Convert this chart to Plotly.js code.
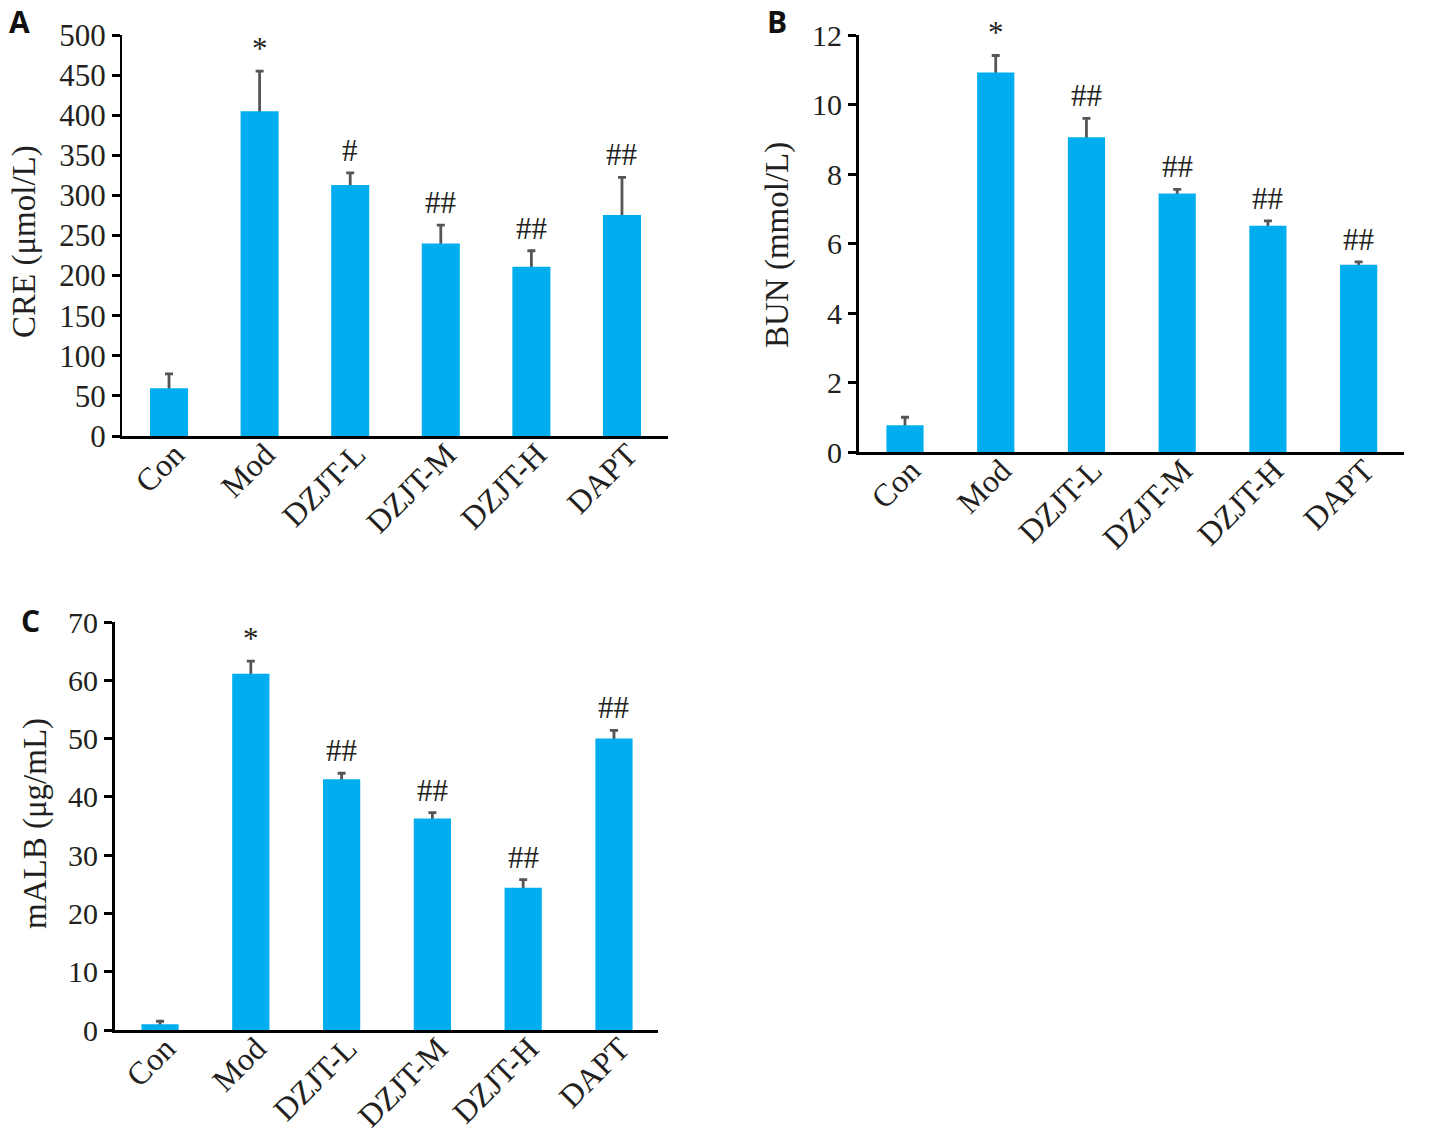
<!DOCTYPE html>
<html>
<head>
<meta charset="utf-8">
<script src="https://cdn.plot.ly/plotly-3.0.1.min.js"></script>
<style>html,body{margin:0;padding:0;background:#fff;}#chart{width:1431px;height:1138px;}</style>
</head>
<body>
<div id="chart"></div>
<script>
// ---- data ----
const categories = ['Con', 'Mod', 'DZJT-L', 'DZJT-M', 'DZJT-H', 'DAPT'];

const creMean = [59.5, 405, 313, 240, 211, 275.5];
const creErr  = [18, 50, 15, 23, 20, 47];
const creSig  = ['', '*', '#', '##', '##', '##'];

const bunMean = [0.77, 10.92, 9.06, 7.44, 6.51, 5.39];
const bunErr  = [0.23, 0.49, 0.54, 0.12, 0.14, 0.08];
const bunSig  = ['', '*', '##', '##', '##', '##'];

const malbMean = [1.0, 61.1, 43.0, 36.3, 24.4, 50.0];
const malbErr  = [0.5, 2.2, 1.05, 1.0, 1.4, 1.4];
const malbSig  = ['', '*', '##', '##', '##', '##'];

const yTitles = ['CRE (μmol/L)', 'BUN (mmol/L)', 'mALB (μg/mL)'];
const panelLetters = ['A', 'B', 'C'];

// ---- styling ----
const BAR = '#00AEEF';
const ERR = '#555555';
const SERIF = '"Liberation Serif", "Times New Roman", serif';
const W = 1431, H = 1138;

const panels = [
  {mean: creMean, err: creErr, sig: creSig, xa: 'x', ya: 'y', width: 0.42,
   xr: [-0.519, 5.508], yr: [0, 500], dtick: 50, ylw: 2,
   dom: {x0: 122, x1: 668, y0: 35, y1: 436}, tfont: 31,
   title: {x: 24, y: 242}, letter: {x: 19, y: 21}},
  {mean: bunMean, err: bunErr, sig: bunSig, xa: 'x2', ya: 'y2', width: 0.41,
   xr: [-0.507, 5.50], yr: [0, 12], dtick: 2, ylw: 3,
   dom: {x0: 859, x1: 1404, y0: 35, y1: 452}, tfont: 30,
   title: {x: 777, y: 245}, letter: {x: 777, y: 21}},
  {mean: malbMean, err: malbErr, sig: malbSig, xa: 'x3', ya: 'y3', width: 0.41,
   xr: [-0.496, 5.485], yr: [0, 70], dtick: 10, ylw: 3,
   dom: {x0: 115, x1: 658, y0: 622, y1: 1030}, tfont: 30,
   title: {x: 35, y: 824}, letter: {x: 31, y: 620}}
];

const data = [];
const layout = {
  width: W, height: H,
  margin: {l: 0, r: 0, t: 0, b: 0},
  paper_bgcolor: '#fff', plot_bgcolor: 'rgba(0,0,0,0)',
  showlegend: false,
  barmode: 'overlay',
  annotations: []
};

panels.forEach((p, i) => {
  const n = i === 0 ? '' : String(i + 1);
  // error bars (hidden bar underneath, lower part of error covered by the real bar)
  data.push({
    type: 'bar', x: categories, y: p.mean, xaxis: p.xa, yaxis: p.ya,
    width: p.width, marker: {color: 'rgba(0,0,0,0)'},
    error_y: {type: 'data', symmetric: false, array: p.err, arrayminus: p.mean,
              color: ERR, thickness: 2.8, width: 4},
    hoverinfo: 'skip'
  });
  data.push({
    type: 'bar', x: categories, y: p.mean, xaxis: p.xa, yaxis: p.ya,
    width: p.width, marker: {color: BAR, line: {width: 0}}
  });

  layout['xaxis' + n] = {
    domain: [p.dom.x0 / W, p.dom.x1 / W], anchor: 'y' + n,
    range: p.xr, type: 'category', showgrid: false, zeroline: false,
    showline: true, linecolor: '#000', linewidth: 3, ticks: '',
    tickangle: -45, ticklabelstandoff: -16, ticklabelshift: 6,
    tickfont: {family: SERIF, size: 32, color: '#231f20'},
    fixedrange: true
  };
  layout['yaxis' + n] = {
    domain: [1 - p.dom.y1 / H, 1 - p.dom.y0 / H], anchor: 'x' + n,
    range: p.yr, dtick: p.dtick, tick0: 0, showgrid: false, zeroline: false,
    showline: true, linecolor: '#000', linewidth: p.ylw,
    ticks: 'outside', ticklen: 8, tickwidth: 3, tickcolor: '#000',
    tickfont: {family: SERIF, size: p.tfont, color: '#231f20'},
    fixedrange: true
  };

  // significance marks
  categories.forEach((c, k) => {
    if (!p.sig[k]) return;
    layout.annotations.push({
      xref: p.xa, yref: p.ya, x: c, y: p.mean[k] + p.err[k],
      text: p.sig[k], showarrow: false, yanchor: 'bottom', yshift: 3,
      font: {family: SERIF, size: 31, color: '#231f20'}
    });
  });

  // y-axis title
  layout.annotations.push({
    xref: 'paper', yref: 'paper', x: p.title.x / W, y: 1 - p.title.y / H,
    text: yTitles[i], textangle: -90, showarrow: false,
    xanchor: 'center', yanchor: 'middle',
    font: {family: SERIF, size: 33, color: '#231f20'}
  });

  // panel letter
  layout.annotations.push({
    xref: 'paper', yref: 'paper', x: p.letter.x / W, y: 1 - p.letter.y / H,
    text: '<b>' + panelLetters[i] + '</b>', showarrow: false,
    xanchor: 'center', yanchor: 'middle',
    font: {family: '"Open Sans", Arial, sans-serif', size: 30, color: '#111'}
  });
});

Plotly.newPlot('chart', data, layout, {displayModeBar: false, staticPlot: true});
</script>
</body>
</html>
